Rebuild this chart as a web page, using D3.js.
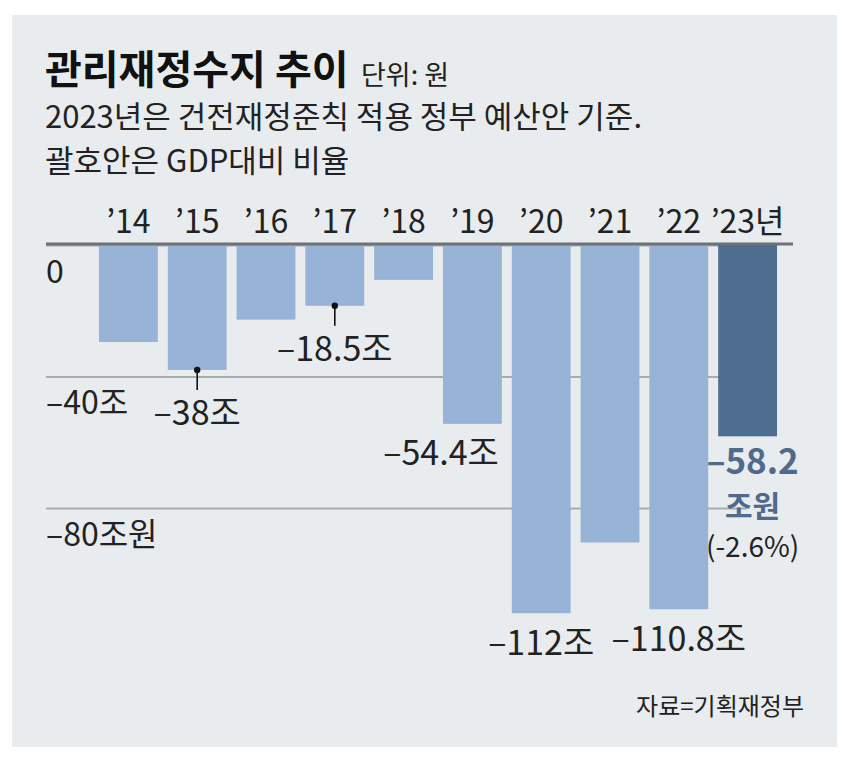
<!DOCTYPE html>
<html>
<head>
<meta charset="utf-8">
<script src="https://cdn.jsdelivr.net/npm/d3@7"></script>
<style>
  html, body { margin: 0; padding: 0; background: #ffffff; }
  svg { display: block; }
  .num { font-family: "Liberation Sans Narrow", "Noto Sans CJK KR", sans-serif; }
  .kr { font-family: "Noto Sans CJK KR", sans-serif; }
</style>
</head>
<body>
<div id="chart"></div>
<script>
// ---- data ----
const years = ["14", "15", "16", "17", "18", "19", "20", "21", "22", "23"];
const yearLabels = ["’14", "’15", "’16", "’17", "’18", "’19", "’20", "’21", "’22", "’23년"];
const balance = [-29.5, -38, -22.7, -18.5, -10.6, -54.4, -112, -90.5, -110.8, -58.2]; // 조원
const valueLabels = [null, "–38조", null, "–18.5조", null, "–54.4조", "–112조", null, "–110.8조", null];
const leaderYears = ["15", "17"];
const yTicks = [0, -40, -80];
const yTickLabels = ["0", "–40조", "–80조원"];
const highlightYear = "23";
const highlightLabel = ["–58.2", "조원", "(-2.6%)"];
const title = "관리재정수지 추이";
const unitText = "단위: 원";
const subtitle = ["2023년은 건전재정준칙 적용 정부 예산안 기준.", "괄호안은 GDP대비 비율"];
const source = "자료=기획재정부";

// ---- layout ----
const W = 850, H = 771;
const svg = d3.select("#chart").append("svg").attr("width", W).attr("height", H);

svg.append("rect").attr("x", 12).attr("y", 15).attr("width", 825).attr("height", 732)
  .attr("fill", "#e8ecee");

const x = d3.scaleBand().domain(years).range([94, 94 + 688])
  .paddingInner(0.145).paddingOuter(0.0725);
const y = d3.scaleLinear().domain([0, -80]).range([245, 508]);

const lightBar = "#97b3d6", darkBar = "#4e6d90", hiText = "#4f6a8d", ink = "#222222";

// title
svg.append("text").attr("class", "kr").attr("x", 45).attr("y", 84)
  .attr("font-size", 40).attr("font-weight", 700).attr("fill", "#111").text(title);
svg.append("text").attr("class", "kr").attr("x", 361).attr("y", 85)
  .attr("font-size", 27).attr("fill", ink).text(unitText);
svg.selectAll("text.sub").data(subtitle).join("text")
  .attr("class", "sub num").attr("x", 45).attr("y", (d, i) => 128 + i * 44)
  .attr("font-size", 31).attr("fill", ink).text(d => d);

// y gridlines + labels via axis
const yAxis = d3.axisRight(y).tickValues(yTicks).tickSize(747 - 46)
  .tickFormat((d, i) => yTickLabels[i]);
const gy = svg.append("g").attr("transform", "translate(46,0)").call(yAxis);
gy.select(".domain").remove();
gy.selectAll(".tick line").attr("stroke", "#a9acae").attr("stroke-width", 2);
gy.selectAll(".tick text").attr("class", "num").attr("x", 0).attr("dy", 0)
  .attr("y", 37).attr("text-anchor", "start").attr("dominant-baseline", "alphabetic")
  .attr("font-size", 32).attr("fill", ink).attr("font-family", null);

// bars
svg.selectAll("rect.bar").data(years).join("rect")
  .attr("class", "bar")
  .attr("x", d => x(d))
  .attr("width", x.bandwidth())
  .attr("y", y(0))
  .attr("height", (d, i) => y(balance[i]) - y(0))
  .attr("fill", d => d === highlightYear ? darkBar : lightBar);

// zero baseline on top
svg.append("line").attr("x1", 46).attr("x2", 793).attr("y1", y(0) - 1).attr("y2", y(0) - 1)
  .attr("stroke", "#6f7275").attr("stroke-width", 3);

// x axis labels
const xAxis = d3.axisTop(x).tickSize(0).tickFormat((d, i) => yearLabels[i]);
const gx = svg.append("g").attr("transform", "translate(0,233)").call(xAxis);
gx.select(".domain").remove();
gx.selectAll(".tick text").attr("class", "num").attr("font-family", null)
  .attr("y", 0).attr("dy", 0).attr("font-size", 32).attr("fill", ink);

// value labels
years.forEach((yr, i) => {
  const lab = valueLabels[i];
  if (!lab) return;
  const cx = x(yr) + x.bandwidth() / 2;
  const by = y(balance[i]);
  if (leaderYears.includes(yr)) {
    svg.append("line").attr("x1", cx).attr("x2", cx).attr("y1", by).attr("y2", by + 20)
      .attr("stroke", "#111").attr("stroke-width", 1.6);
    svg.append("circle").attr("cx", cx).attr("cy", by).attr("r", 3.2).attr("fill", "#111");
    svg.append("text").attr("class", "num").attr("x", cx).attr("y", by + 55)
      .attr("text-anchor", "middle").attr("font-size", 34).attr("fill", ink).text(lab);
  } else if (yr === "19") {
    svg.append("text").attr("class", "num").attr("x", x(yr) + x.bandwidth() - 3).attr("y", by + 41)
      .attr("text-anchor", "end").attr("font-size", 34).attr("fill", ink).text(lab);
  } else {
    svg.append("text").attr("class", "num").attr("x", cx).attr("y", by + 42)
      .attr("text-anchor", "middle").attr("font-size", 34).attr("fill", ink).text(lab);
  }
});

// highlight labels for 2023
const hIdx = years.indexOf(highlightYear);
const hx = x(highlightYear) + x.bandwidth() / 2 + 5;
const hy = y(balance[hIdx]);
svg.append("text").attr("class", "num").attr("x", hx).attr("y", hy + 38)
  .attr("text-anchor", "middle").attr("font-size", 35).attr("font-weight", 700)
  .attr("fill", hiText).text(highlightLabel[0]);
svg.append("text").attr("class", "kr").attr("x", hx).attr("y", hy + 81)
  .attr("text-anchor", "middle").attr("font-size", 30).attr("font-weight", 700)
  .attr("fill", hiText).text(highlightLabel[1]);
svg.append("text").attr("class", "num").attr("x", hx).attr("y", hy + 121)
  .attr("text-anchor", "middle").attr("font-size", 28)
  .attr("fill", ink).text(highlightLabel[2]);

// source
svg.append("text").attr("class", "kr").attr("x", 804).attr("y", 715)
  .attr("text-anchor", "end").attr("font-size", 24).attr("fill", ink).text(source);
</script>
</body>
</html>
